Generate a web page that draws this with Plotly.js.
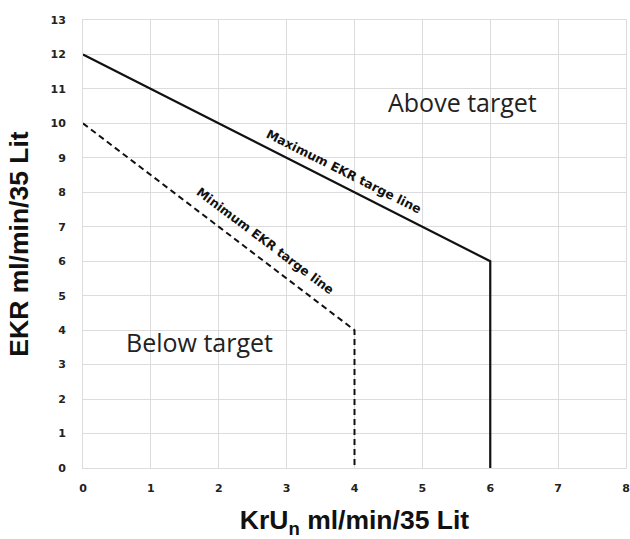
<!DOCTYPE html>
<html><head><meta charset="utf-8">
<script src="https://cdn.plot.ly/plotly-3.0.1.min.js"></script>
<style>body{margin:0;background:#fff}#chart{width:630px;height:539px}</style>
</head><body><div id="chart"></div>
<script>
const maxX = [0, 6, 6];
const maxY = [12, 6, 0];
const minX = [0, 4, 4];
const minY = [10, 4, 0];
const xTicks = [0,1,2,3,4,5,6,7,8];
const yTicks = [0,1,2,3,4,5,6,7,8,9,10,11,12,13];
const labelTexts = ["Maximum EKR targe line", "Minimum EKR targe line", "Above target", "Below target"];
const labelX = [3.85, 2.68, 5.59, 1.72];
const labelY = [8.60, 6.59, 10.62, 3.66];

const traces = [
  {x: maxX, y: maxY, mode: 'lines', line: {color: '#111', width: 2.2}, hoverinfo: 'skip'},
  {x: minX, y: minY, mode: 'lines', line: {color: '#111', width: 2, dash: '6px,4px'}, hoverinfo: 'skip'}
];
const tickFont = {family: 'DejaVu Sans, sans-serif', size: 11, color: '#222', weight: 'bold'};
const titleFont = {family: 'Liberation Sans, Arial, sans-serif', size: 26.5, color: '#111', weight: 'bold'};
const rotFont = {family: 'DejaVu Sans, sans-serif', size: 12.4, color: '#111', weight: 'bold'};
const areaFont = {family: 'Open Sans, sans-serif', size: 25, color: '#222'};
const layout = {
  width: 630, height: 539,
  margin: {l: 83, r: 4, t: 20, b: 71},
  showlegend: false,
  plot_bgcolor: '#fff', paper_bgcolor: '#fff',
  xaxis: {range: [0, 8], tickvals: xTicks, ticktext: xTicks.map(String), showgrid: true, gridcolor: '#dcdcdc', gridwidth: 1,
    zeroline: false, showline: true, linecolor: '#dcdcdc', mirror: true, ticks: '', ticklabelstandoff: 10,
    tickfont: tickFont, automargin: false,
    title: {text: 'KrU<sub>n</sub> ml/min/35 Lit', standoff: 21, font: titleFont}},
  yaxis: {range: [0, 13], tickvals: yTicks, ticktext: yTicks.map(String), showgrid: true, gridcolor: '#dcdcdc', gridwidth: 1,
    zeroline: false, showline: true, linecolor: '#dcdcdc', mirror: true, ticks: '', ticklabelstandoff: 14,
    tickfont: tickFont, automargin: false,
    title: {text: 'EKR ml/min/35 Lit', standoff: 14, font: titleFont}},
  annotations: [
    {x: labelX[0], y: labelY[0], text: labelTexts[0], showarrow: false, textangle: 26.6, font: rotFont},
    {x: labelX[1], y: labelY[1], text: labelTexts[1], showarrow: false, textangle: 37, font: rotFont},
    {x: labelX[2], y: labelY[2], text: labelTexts[2], showarrow: false, font: areaFont},
    {x: labelX[3], y: labelY[3], text: labelTexts[3], showarrow: false, font: areaFont}
  ]
};
Plotly.newPlot('chart', traces, layout, {displayModeBar: false, staticPlot: true});
</script>
</body></html>
